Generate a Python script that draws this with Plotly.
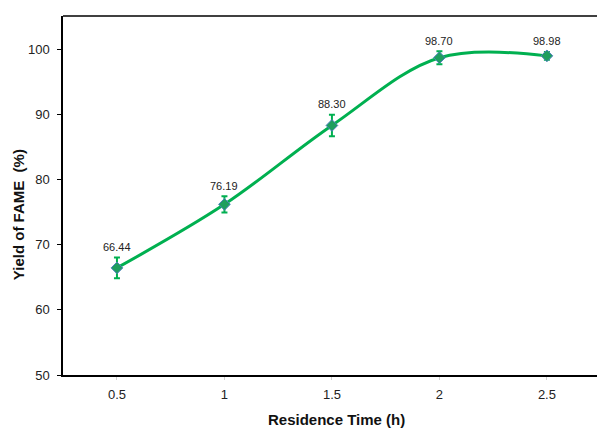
import plotly.graph_objects as go

time_h = [0.5, 1.0, 1.5, 2.0, 2.5]
yield_fame = [66.44, 76.19, 88.30, 98.70, 98.98]
yield_err = [1.6, 1.25, 1.65, 1.0, 0.6]
labels = ["66.44", "76.19", "88.30", "98.70", "98.98"]
x_ticks = [0.5, 1, 1.5, 2, 2.5]
x_ticktext = ["0.5", "1", "1.5", "2", "2.5"]
y_ticks = [50, 60, 70, 80, 90, 100]

GREEN = "#00B050"
FONT = "Liberation Sans, Arial, sans-serif"

fig = go.Figure()
fig.add_trace(go.Scatter(
    x=time_h, y=yield_fame,
    mode="lines+markers",
    line=dict(color=GREEN, width=3, shape="spline", smoothing=1.0),
    marker=dict(symbol="diamond", size=9, color="#1E9E5E",
                line=dict(color="#4F81BD", width=1)),
    error_y=dict(type="data", array=yield_err, visible=True,
                 color=GREEN, thickness=2, width=3),
    showlegend=False,
))

label_annots = [
    dict(x=xv, y=yv + ev, text=t, xref="x", yref="y", showarrow=False,
         xanchor="center", yanchor="middle", yshift=10.5,
         font=dict(size=11, family=FONT, color="#222222"))
    for xv, yv, ev, t in zip(time_h, yield_fame, yield_err, labels)
]

fig.update_layout(
    width=597, height=429,
    margin=dict(l=63, r=0, t=16, b=54),
    paper_bgcolor="white", plot_bgcolor="white",
    font=dict(family=FONT, size=13, color="#222222"),
    xaxis=dict(range=[0.249, 2.733], tickvals=x_ticks, ticktext=x_ticktext,
               showgrid=False, zeroline=False, showline=True,
               linecolor="black", linewidth=1.5,
               ticks="outside", ticklen=3, tickcolor="#d0d0d0",
               ticklabelstandoff=4,
               tickfont=dict(size=13, family=FONT, color="#222222")),
    yaxis=dict(range=[50, 105.1], tickvals=y_ticks,
               showgrid=False, zeroline=False, showline=True,
               linecolor="black", linewidth=1.5,
               ticks="outside", ticklen=4, tickcolor="black",
               ticklabelstandoff=5,
               tickfont=dict(size=13, family=FONT, color="#222222")),
    shapes=[dict(type="line", xref="paper", yref="paper",
                 x0=0, x1=1, y0=1, y1=1,
                 line=dict(color="black", width=1.5))],
    annotations=label_annots + [
        dict(text="<b>Yield of FAME  (%)</b>", xref="paper", yref="paper",
             x=-0.0818, y=0.446, textangle=-90, showarrow=False,
             xanchor="center", yanchor="middle",
             font=dict(size=15, family=FONT, color="#111111")),
        dict(text="<b>Residence Time (h)</b>", xref="paper", yref="paper",
             x=0.513, y=-0.1226, showarrow=False,
             xanchor="center", yanchor="middle",
             font=dict(size=15, family=FONT, color="#111111")),
    ],
)

fig.write_html("out.html", config={"displayModeBar": False},
               post_script="document.body.style.margin='0';document.body.style.overflow='hidden';")
